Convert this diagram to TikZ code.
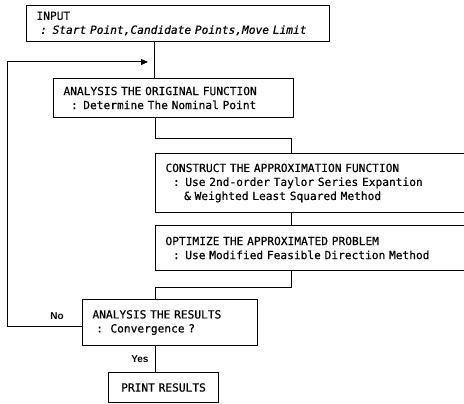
\documentclass[tikz,border=0pt]{standalone}
\usepackage{fontspec}
\newfontfamily\boxfont{DejaVu Sans Mono}[FakeBold=0.5]
\newfontfamily\boxfontit{DejaVu Sans Mono Oblique}[FakeBold=0.5]
\newfontfamily\lblfont{Liberation Sans}
\usetikzlibrary{arrows.meta}
\begin{document}
\begin{tikzpicture}[x=1pt,y=-1pt,
  box/.style={draw, line width=1pt, anchor=north west, inner xsep=10pt, inner ysep=0pt,
    align=left, font=\boxfont\fontsize{11.2}{14}\selectfont},
  conn/.style={line width=1pt},
  lbl/.style={font=\lblfont\bfseries\fontsize{10}{12}\selectfont, inner sep=0pt}]
\useasboundingbox (0,0) rectangle (464,404);
\clip (0,0) rectangle (464,404);

\node[box, minimum width=303pt, minimum height=36pt, text width=283pt] (b1) at (26,5)
  {INPUT\\{\boxfontit\ : Start Point,Candidate Points,Move Limit}};
\node[box, minimum width=240pt, minimum height=39pt, text width=220pt] (b2) at (53,78)
  {ANALYSIS THE ORIGINAL FUNCTION\\\ \ : Determine The Nominal Point};
\node[box, minimum width=320pt, minimum height=59pt, text width=300pt] (b3) at (155,153)
  {CONSTRUCT THE APPROXIMATION FUNCTION\\\ \ : Use 2nd-order Taylor Series Expantion\\\ \ \ \ \ \& Weighted Least Squared Method};
\node[box, minimum width=320pt, minimum height=45pt, text width=300pt] (b4) at (155,225)
  {OPTIMIZE THE APPROXIMATED PROBLEM\\\ \ : Use Modified Feasible Direction Method};
\node[box, minimum width=175pt, minimum height=46pt, text width=155pt] (b5) at (82,299)
  {ANALYSIS THE RESULTS\\\ :\ \ Convergence ?};
\node[box, minimum width=110pt, minimum height=30pt, text width=90pt, align=center] (b6) at (108,372)
  {PRINT RESULTS};

\node[lbl] (no) at (57,316) {No};

\coordinate (tip) at (148,62);

\draw[conn] ([xshift=128pt]b1.south west) -- ([xshift=101pt]b2.north west);
\draw[conn] ([xshift=102pt]b2.south west) -- ++(0,21) -| ([xshift=136pt]b3.north west);
\draw[conn] ([xshift=136pt]b3.south west) -- ([xshift=136pt]b4.north west);
\draw[conn] ([xshift=136pt]b4.south west) -- ++(0,16) -| ([xshift=73pt]b5.north west);
\draw[conn] ([xshift=73pt]b5.south west) -- node[lbl, left=6pt] (yes) {Yes} ([xshift=47pt]b6.north west);
\draw[conn, -{Triangle[length=7pt,width=6pt]}] ([yshift=-27pt]b5.north west) -- ++(-75,0) |- (tip);
\end{tikzpicture}
\end{document}
